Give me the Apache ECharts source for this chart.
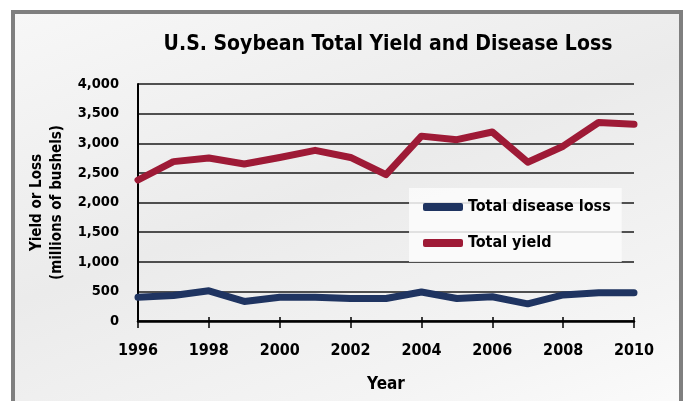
<!DOCTYPE html>
<html>
<head>
<meta charset="utf-8">
<script src="https://cdn.jsdelivr.net/npm/echarts@6/dist/echarts.min.js"></script>
<style>
  html, body { margin: 0; padding: 0; background: #fff; }
  #frame {
    position: absolute; left: 11px; top: 10px; width: 664px; height: 400px;
    border: 4px solid #7f7f7f; border-bottom: none;
    background: linear-gradient(160deg, #f7f7f7 0%, #ebebeb 45%, #f4f4f4 80%, #fbfbfb 100%);
  }
  #chart { position: absolute; left: 0; top: 0; width: 686px; height: 401px; }
</style>
</head>
<body>
<div id="frame"></div>
<div id="chart"></div>
<script>
// data (millions of bushels)
var years = ['1996', '1997', '1998', '1999', '2000', '2001', '2002', '2003',
             '2004', '2005', '2006', '2007', '2008', '2009', '2010'];
var totalDiseaseLoss = [400, 430, 510, 330, 400, 400, 380, 380, 490, 380, 410, 290, 440, 475, 475];
var totalYield = [2380, 2690, 2750, 2650, 2760, 2880, 2760, 2470, 3120, 3060, 3190, 2680, 2950, 3350, 3320];

var F = "'DejaVu Sans Condensed', 'DejaVu Sans', sans-serif";
var myChart = echarts.init(document.getElementById('chart'));

myChart.setOption({
  backgroundColor: 'transparent',
  animation: false,
  title: {
    text: 'U.S. Soybean Total Yield and Disease Loss',
    left: 383,
    top: 29,
    textAlign: 'center',
    textStyle: {fontFamily: F, fontSize: 21, fontWeight: 'bold', color: '#000'}
  },
  grid: {left: 138, right: 52, top: 84, bottom: 80, containLabel: false},
  legend: {
    orient: 'vertical',
    left: 409,
    top: 188,
    padding: [9, 11, 9, 14],
    itemGap: 16,
    itemWidth: 40,
    itemHeight: 8,
    icon: 'roundRect',
    backgroundColor: 'rgba(252,252,252,0.85)',
    textStyle: {fontFamily: F, fontSize: 16, fontWeight: 'bold', color: '#000', lineHeight: 20},
    data: ['Total disease loss', 'Total yield']
  },
  xAxis: [{
    type: 'category',
    data: years,
    boundaryGap: false,
    name: 'Year',
    nameLocation: 'middle',
    nameGap: 55,
    nameTextStyle: {fontFamily: F, fontSize: 17, fontWeight: 'bold', color: '#000'},
    axisLine: {lineStyle: {color: '#000', width: 2.5}},
    axisTick: {show: true, interval: 1, length: 7, lineStyle: {color: '#000', width: 1.5}},
    axisLabel: {interval: 1, margin: 22, fontFamily: F, fontSize: 16, fontWeight: 'bold', color: '#000'},
    splitLine: {show: false}
  }, {
    type: 'category',
    data: years,
    boundaryGap: false,
    position: 'bottom',
    axisLine: {show: false},
    axisTick: {show: true, inside: true, interval: 1, length: 4, lineStyle: {color: '#000', width: 1.5}},
    axisLabel: {show: false},
    splitLine: {show: false}
  }],
  yAxis: {
    type: 'value',
    min: 0,
    max: 4000,
    interval: 500,
    name: 'Yield or Loss\n(millions of bushels)',
    nameLocation: 'middle',
    nameRotate: 90,
    nameGap: 64,
    nameTextStyle: {fontFamily: F, fontSize: 15, fontWeight: 'bold', color: '#000', lineHeight: 20},
    axisLine: {show: true, lineStyle: {color: '#000', width: 2}},
    axisTick: {show: false},
    axisLabel: {margin: 19, fontFamily: F, fontSize: 14.5, fontWeight: 'bold', color: '#000'},
    splitLine: {lineStyle: {color: '#1a1a1a', width: 1.5}}
  },
  series: [{
    name: 'Total disease loss',
    type: 'line',
    data: totalDiseaseLoss,
    showSymbol: false,
    symbol: 'none',
    color: '#1f3461',
    lineStyle: {width: 7, color: '#1f3461', cap: 'round', join: 'round'},
    z: 3
  }, {
    name: 'Total yield',
    type: 'line',
    data: totalYield,
    showSymbol: false,
    symbol: 'none',
    color: '#9e1a36',
    lineStyle: {width: 7, color: '#9e1a36', cap: 'round', join: 'round'},
    z: 3
  }]
});
</script>
</body>
</html>
